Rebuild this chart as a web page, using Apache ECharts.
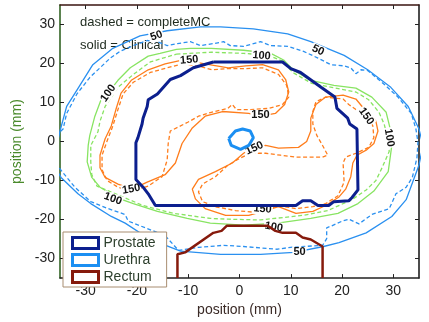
<!DOCTYPE html>
<html>
<head>
<meta charset="utf-8">
<script src="https://cdn.jsdelivr.net/npm/echarts@6/dist/echarts.min.js"></script>
<style>
  html, body { margin: 0; padding: 0; background: #fff; }
  #chart { width: 429px; height: 322px; }
</style>
</head>
<body>
<div id="chart"></div>
<script>
// tick values (mm)
const xTicks = [-30, -20, -10, 0, 10, 20, 30];
const yTicks = [-30, -20, -10, 0, 10, 20, 30];

// structures, [x, y] in mm
const prostate = [[-5.1, 20.4], [8.4, 20.4], [10.0, 18.7], [11.9, 17.7], [15.9, 13.9], [18.6, 11.4], [19.0, 8.5],
  [21.1, 6.0], [21.5, 4.5], [22.9, 3.2], [23.1, -12.4], [21.9, -14.4], [21.3, -15.2], [18.4, -15.4], [17.4, -16.4],
  [15.3, -16.4], [13.9, -15.2], [12.3, -15.2], [11.0, -16.4], [-16.4, -16.4], [-17.8, -13.4], [-18.8, -11.7],
  [-20.2, -9.7], [-20.2, -0.3], [-19.8, 1.0], [-19.0, 4.5], [-18.8, 6.0], [-18.0, 9.0], [-17.8, 10.7], [-16.0, 12.2],
  [-13.5, 15.9], [-11.5, 16.9], [-9.0, 18.9], [-5.1, 20.4]];
const urethra = [[-2.1, 0.8], [-0.8, 2.7], [0.6, 3.2], [2.1, 2.7], [2.7, 1.0], [1.8, -1.0], [0.2, -2.0], [-1.6, -1.0], [-2.1, 0.8]];
const rectum = [[-12.1, -35], [-12.1, -28.9], [-10.6, -28.4], [-5.1, -23.4], [-3.5, -22.9], [-2.5, -21.6], [5.5, -21.6],
  [7.0, -22.9], [8.4, -23.4], [11.0, -23.4], [12.3, -24.6], [13.9, -25.1], [16.2, -26.9], [16.2, -35]];

// 50 isodose
const dose50Clinical = [[-36.0, -3.0], [-35.0, 2.7], [-33.7, 9.0], [-31.7, 13.2], [-28.6, 19.7], [-24.7, 23.9], [-19.4, 27.1],
  [-14.1, 28.4], [-7.6, 29.4], [-3.7, 29.4], [2.7, 28.9], [9.4, 27.6], [13.9, 25.6], [20.4, 22.1], [25.0, 18.4], [29.5, 13.9],
  [32.9, 9.0], [35.0, 3.2], [35.8, -1.0], [35.0, -6.0], [32.5, -14.9], [29.7, -19.2], [24.7, -23.4], [19.4, -25.9],
  [16.4, -26.9], [10.6, -28.4], [4.1, -28.9], [-3.7, -28.9], [-11.5, -28.1], [-17.4, -25.1], [-22.3, -20.9], [-25.0, -19.2],
  [-29.0, -15.9], [-31.5, -13.4], [-34.8, -9.2], [-36.0, -6.5]];
const dose50MC = [[-35.8, 1.5], [-34.4, 3.2], [-33.7, 7.2], [-31.7, 12.2], [-29.2, 16.4], [-27.2, 18.9], [-25.2, 21.4],
  [-23.3, 23.1], [-20.7, 24.6], [-18.0, 25.9], [-16.0, 25.6], [-14.1, 24.6], [-12.1, 25.1], [-9.6, 25.6], [-7.6, 24.6],
  [-5.1, 25.1], [-3.1, 25.6], [-1.8, 24.6], [0.8, 24.4], [4.1, 25.6], [6.1, 24.6], [9.4, 24.4], [12.5, 23.1], [15.3, 21.4],
  [17.8, 19.7], [20.4, 19.4], [21.7, 18.9], [22.7, 17.4], [23.7, 18.4], [25.0, 18.2], [28.2, 14.7], [30.9, 11.4],
  [33.5, 7.2], [34.4, 3.2], [34.8, -0.2], [34.6, -4.2], [33.7, -9.2], [32.5, -11.7], [30.5, -13.4], [29.2, -17.2],
  [25.8, -18.7], [23.3, -21.1], [21.3, -19.9], [20.0, -20.4], [18.0, -21.6], [17.0, -22.1], [17.0, -24.9], [16.2, -26.6],
  [10.0, -27.1], [7.4, -27.6], [0.8, -26.9], [-3.1, -26.6], [-8.0, -27.1], [-11.9, -27.9], [-14.5, -24.1], [-21.7, -20.4],
  [-22.3, -18.7], [-25.6, -17.2], [-29.0, -15.4], [-32.1, -11.7], [-34.1, -8.5], [-35.6, -6.0]];

// 100 isodose
const dose100Clinical = [[-12.3, 23.6], [-9.6, 23.9], [-5.5, 23.9], [0.8, 23.4], [6.1, 22.6], [8.6, 20.9], [10.6, 18.2],
  [13.9, 15.7], [18.4, 14.4], [22.7, 13.7], [25.8, 11.4], [28.6, 7.5], [29.4, 3.2], [29.7, -1.0], [29.0, -7.7],
  [26.2, -12.7], [23.1, -15.9], [19.2, -18.4], [13.9, -19.7], [7.4, -20.9], [0.8, -21.4], [-5.7, -20.9], [-10.2, -19.7],
  [-16.0, -17.9], [-20.7, -15.9], [-23.3, -14.7], [-27.2, -11.7], [-28.8, -9.2], [-29.7, -5.2], [-29.5, -1.0],
  [-29.2, 1.5], [-28.2, 6.5], [-27.0, 10.7], [-25.2, 13.2], [-23.7, 15.7], [-21.3, 18.9], [-17.8, 21.9], [-15.5, 22.6],
  [-12.3, 23.6]];
const dose100MC = [[-12.3, 22.4], [-5.5, 22.9], [0.8, 22.6], [5.7, 22.1], [8.4, 20.6], [10.4, 17.7], [14.1, 14.9],
  [18.0, 13.9], [22.7, 12.7], [25.2, 10.7], [27.2, 7.5], [28.2, 4.5], [28.8, 1.5], [29.2, -2.5], [27.8, -6.7],
  [26.6, -10.0], [24.7, -12.4], [21.9, -14.9], [17.2, -17.7], [12.5, -18.9], [4.1, -20.1], [-2.2, -19.9], [-5.7, -19.7],
  [-12.9, -18.4], [-18.8, -16.4], [-23.3, -13.9], [-27.8, -11.4], [-28.8, -8.5], [-29.0, -5.2], [-29.0, -1.0],
  [-27.6, 2.5], [-27.2, 5.2], [-26.2, 9.0], [-23.7, 13.9], [-20.7, 17.2], [-17.4, 20.4], [-12.3, 22.4]];

// 150 isodose: upper-left C-shaped region (A) and lower-right region (B)
const dose150ClinicalA = [[-11.2, 20.9], [-7.6, 20.1], [-2.2, 18.9], [1.2, 19.4], [4.5, 19.7], [7.6, 18.4], [9.0, 15.9],
  [9.6, 12.7], [8.8, 9.5], [7.0, 7.2], [4.1, 6.5], [1.8, 7.2], [-3.3, 7.7], [-6.7, 6.5], [-9.2, 3.5], [-11.2, -0.5],
  [-12.5, -5.5], [-14.5, -8.5], [-18.0, -10.4], [-20.9, -12.2], [-23.7, -10.9], [-26.2, -9.2], [-27.2, -6.7],
  [-27.2, -3.5], [-26.2, 0.7], [-25.0, 4.0], [-24.1, 8.2], [-23.1, 12.4], [-21.1, 15.7], [-17.8, 18.4], [-14.5, 19.9],
  [-11.2, 20.9]];
const dose150ClinicalB = [[2.5, -1.7], [0.8, -3.0], [-1.4, -5.5], [-4.7, -7.7], [-8.0, -9.7], [-9.2, -12.2], [-8.6, -14.7],
  [-6.7, -17.2], [-2.7, -18.9], [1.8, -18.9], [5.1, -17.7], [7.6, -16.7], [11.0, -18.4], [14.3, -17.9], [16.8, -16.4],
  [19.4, -14.2], [20.7, -12.2], [21.7, -9.0], [22.1, -5.5], [22.9, -3.5], [24.7, -2.2], [26.2, -0.5], [27.0, 2.7],
  [26.6, 5.2], [24.7, 7.7], [22.7, 10.9], [20.2, 11.9], [16.8, 11.4], [14.9, 9.5], [13.9, 6.0], [13.9, 2.7], [13.1, 0.0],
  [11.5, -1.5], [7.6, -1.7], [5.1, -1.0], [2.5, -1.7]];
const dose150MCA = [[-11.2, 19.9], [-7.6, 19.2], [-5.3, 18.4], [-2.2, 18.7], [1.2, 18.7], [4.5, 18.9], [7.6, 17.2],
  [9.2, 14.4], [9.6, 11.4], [8.4, 9.5], [5.7, 8.5], [2.2, 8.2], [-0.6, 8.2], [-1.4, 9.5], [-2.3, 8.5], [-5.5, 7.5],
  [-8.0, 6.5], [-10.0, 5.0], [-11.5, 4.0], [-13.5, 2.7], [-13.9, -0.5], [-14.1, -4.7], [-15.1, -9.0], [-17.8, -11.4],
  [-20.9, -12.7], [-23.7, -11.7], [-25.8, -10.0], [-26.8, -7.2], [-26.8, -3.5], [-25.8, 0.2], [-24.7, 4.0],
  [-23.7, 8.2], [-22.7, 12.2], [-20.7, 15.2], [-17.4, 17.7], [-14.1, 18.9], [-11.2, 19.9]];
const dose150MCB = [[2.2, -3.0], [0.2, -4.2], [-2.2, -6.0], [-4.7, -9.0], [-7.2, -10.9], [-8.0, -12.9], [-7.2, -15.4],
  [-4.7, -16.7], [-0.8, -17.7], [3.7, -18.2], [7.6, -16.4], [11.0, -17.2], [14.3, -16.7], [16.8, -15.9], [19.2, -13.9],
  [20.4, -10.4], [20.2, -5.5], [20.7, -4.0], [22.7, -3.0], [25.2, -1.5], [26.2, 1.0], [26.0, 4.0], [24.9, 7.0],
  [22.7, 8.2], [21.3, 9.5], [20.2, 10.9], [16.8, 11.4], [14.9, 10.2], [14.3, 7.7], [14.3, 4.5], [15.1, 1.5],
  [16.2, -1.0], [17.2, -3.5], [16.2, -4.0], [11.0, -4.0], [8.0, -3.5], [5.1, -3.0], [2.2, -3.0]];

// contour labels
const labelText = ['50', '50', '50', '100', '100', '100', '100', '100', '150', '150', '150', '150', '150', '150'];
const labelX = [-16.2, 15.3, 11.7, -25.6, 4.3, 29.2, -24.7, 6.7, -9.8, 4.1, 24.7, 2.9, 4.5, -21.1];
const labelY = [27.1, 23.4, -28.4, 12.4, 22.0, 1.0, -14.7, -21.9, 20.9, 6.7, 6.5, -1.7, -17.3, -12.2];
const labelRot = [20, -25, 0, 55, -5, -80, -20, -10, 5, 0, -55, 25, -5, 10];

const C_NAVY = '#0c1f8e', C_URE = '#1b8ff2', C_REC = '#861a0c';
const C_50 = '#2a90f0', C_100 = '#88e462', C_150 = '#ff7d1c';
const FONT = 'Liberation Sans, Arial, sans-serif';

const chart = echarts.init(document.getElementById('chart'), null, { renderer: 'canvas' });

function doseLine(data, color, dashed) {
  return {
    type: 'line', data, showSymbol: false, smooth: false, clip: true, silent: true, z: 2,
    lineStyle: { color, width: 1.3, type: dashed ? [4, 2.5] : 'solid' }
  };
}
function structLine(name, data, color, width) {
  return {
    name, type: 'line', data, showSymbol: false, clip: true, silent: true, z: 5,
    itemStyle: { color }, lineStyle: { color, width }
  };
}

const axisCommon = {
  type: 'value', min: -35, max: 35,
  splitLine: { show: false }
};

chart.setOption({
  animation: false,
  textStyle: { fontFamily: FONT },
  grid: { left: 60, right: 10, top: 5, bottom: 35 },
  xAxis: [
    Object.assign({}, axisCommon, {
      position: 'bottom',
      name: 'position (mm)', nameLocation: 'middle', nameGap: 24,
      nameTextStyle: { fontSize: 14, color: '#3a2a26', fontFamily: FONT },
      axisLine: { onZero: false, lineStyle: { color: '#222', width: 1.5 } },
      axisTick: { inside: true, length: 4, customValues: xTicks, lineStyle: { color: '#222' } },
      axisLabel: { customValues: xTicks, fontSize: 14, color: '#222', margin: 6, fontFamily: FONT }
    }),
    Object.assign({}, axisCommon, {
      position: 'top',
      axisLine: { onZero: false, lineStyle: { color: '#3a1410', width: 1.5 } },
      axisTick: { inside: true, length: 4, customValues: xTicks, lineStyle: { color: '#222' } },
      axisLabel: { show: false }
    })
  ],
  yAxis: [
    Object.assign({}, axisCommon, {
      position: 'left',
      name: 'position (mm)', nameLocation: 'middle', nameGap: 29,
      nameTextStyle: { fontSize: 14, color: '#4a8a2c', fontFamily: FONT },
      axisLine: { onZero: false, lineStyle: { color: '#245a16', width: 1.5 } },
      axisTick: { inside: true, length: 4, customValues: yTicks, lineStyle: { color: '#222' } },
      axisLabel: { customValues: yTicks, fontSize: 14, color: '#222', margin: 5, fontFamily: FONT }
    }),
    Object.assign({}, axisCommon, {
      position: 'right',
      axisLine: { onZero: false, lineStyle: { color: '#111', width: 1.5 } },
      axisTick: { inside: true, length: 4, customValues: yTicks, lineStyle: { color: '#222' } },
      axisLabel: { show: false }
    })
  ],
  legend: {
    left: 63, top: 232, orient: 'vertical', z: 10,
    selectedMode: false, icon: 'rect',
    itemWidth: 26, itemHeight: 11, itemGap: 3,
    padding: [4, 11, 3, 8],
    backgroundColor: '#fff', borderColor: '#a88d70', borderWidth: 1,
    textStyle: { fontSize: 14, color: '#2c3f2c', fontFamily: FONT, lineHeight: 14 },
    data: [
      { name: 'Prostate', itemStyle: { color: '#fff', borderColor: C_NAVY, borderWidth: 3 } },
      { name: 'Urethra', itemStyle: { color: '#fff', borderColor: C_URE, borderWidth: 3 } },
      { name: 'Rectum', itemStyle: { color: '#fff', borderColor: C_REC, borderWidth: 3 } }
    ]
  },
  graphic: [
    { type: 'text', left: 80, top: 16, z: 1,
      style: { text: 'dashed = completeMC', font: '13px ' + FONT, fill: '#1e2a1e' } },
    { type: 'text', left: 80, top: 39, z: 1,
      style: { text: 'solid = Clinical', font: '13px ' + FONT, fill: '#1e2a1e' } }
  ],
  series: [
    doseLine(dose50Clinical, C_50, false),
    doseLine(dose50MC, C_50, true),
    doseLine(dose100Clinical, C_100, false),
    doseLine(dose100MC, C_100, true),
    doseLine(dose150ClinicalA, C_150, false),
    doseLine(dose150ClinicalB, C_150, false),
    doseLine(dose150MCA, C_150, true),
    doseLine(dose150MCB, C_150, true),
    {
      // contour labels drawn as text at data coordinates
      type: 'custom', silent: true, z: 3,
      data: labelText.map((t, i) => [labelX[i], labelY[i], labelRot[i]]),
      encode: { x: 0, y: 1 },
      renderItem: (params, api) => {
        const pt = api.coord([api.value(0), api.value(1)]);
        return {
          type: 'text',
          x: pt[0], y: pt[1],
          rotation: api.value(2) * Math.PI / 180,
          style: {
            text: labelText[params.dataIndex],
            font: 'bold 11px ' + FONT, fill: '#111',
            align: 'center', verticalAlign: 'middle',
            backgroundColor: '#fff', padding: [0, 1]
          }
        };
      }
    },
    structLine('Prostate', prostate, C_NAVY, 3),
    structLine('Urethra', urethra, C_URE, 3),
    structLine('Rectum', rectum, C_REC, 2.5)
  ]
});
</script>
</body>
</html>
